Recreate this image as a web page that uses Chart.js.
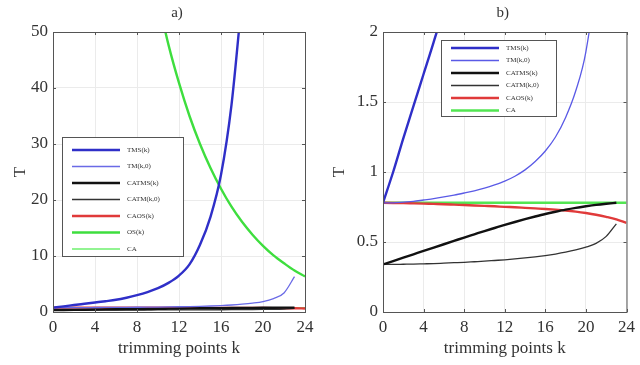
<!DOCTYPE html>
<html>
<head>
<meta charset="utf-8">
<script src="https://cdn.jsdelivr.net/npm/chart.js@4"></script>
<style>
    body { margin: 0; background: #fff; }
    .panel { position: absolute; top: 0; width: 320px; height: 365px; }
    #panelA { left: 0; }
    #panelB { left: 320px; }
</style>
</head>
<body>
<div class="panel" id="panelA"><canvas id="chartA"></canvas></div>
<div class="panel" id="panelB"><canvas id="chartB"></canvas></div>
<script>
// trimming points k = 0..24
const kValues = [0, 1, 2, 3, 4, 5, 6, 7, 8, 9, 10, 11, 12, 13, 14, 15, 16, 17, 18, 19, 20, 21, 22, 23, 24];

const tmsK    = [0.78, 1.0, 1.24, 1.47, 1.7, 1.93, 2.18, 2.55, 3.0, 3.55, 4.25, 5.2, 6.5, 8.5, 12, 17, 24.5, 37, 56, null, null, null, null, null, null];
const tmK0    = [0.78, 0.78, 0.785, 0.79, 0.8, 0.81, 0.822, 0.835, 0.85, 0.866, 0.885, 0.908, 0.935, 0.97, 1.015, 1.075, 1.15, 1.25, 1.39, 1.58, 1.86, 2.4, 3.4, 6.3, null];
const catmsK  = [0.34, 0.364, 0.388, 0.412, 0.436, 0.46, 0.484, 0.508, 0.532, 0.555, 0.578, 0.6, 0.622, 0.643, 0.663, 0.682, 0.7, 0.716, 0.731, 0.744, 0.755, 0.765, 0.773, 0.78, null];
const catmK0  = [0.34, 0.34, 0.341, 0.342, 0.344, 0.346, 0.349, 0.352, 0.355, 0.359, 0.363, 0.368, 0.373, 0.379, 0.386, 0.394, 0.403, 0.414, 0.427, 0.443, 0.463, 0.49, 0.54, 0.63, null];
const caosK   = [0.78, 0.779, 0.778, 0.776, 0.774, 0.772, 0.77, 0.767, 0.764, 0.761, 0.758, 0.755, 0.751, 0.748, 0.744, 0.74, 0.736, 0.731, 0.725, 0.717, 0.707, 0.695, 0.68, 0.662, 0.636];
const osK     = [null, null, null, null, null, null, null, null, null, null, 55.8, 47.7, 40.9, 35, 30, 25.7, 22, 18.8, 16.1, 13.8, 11.8, 10.1, 8.7, 7.4, 6.35];
const caConst = [0.78, 0.78, 0.78, 0.78, 0.78, 0.78, 0.78, 0.78, 0.78, 0.78, 0.78, 0.78, 0.78, 0.78, 0.78, 0.78, 0.78, 0.78, 0.78, 0.78, 0.78, 0.78, 0.78, 0.78, 0.78];

const xTicks = [0, 4, 8, 12, 16, 20, 24];
const yTicksA = [0, 10, 20, 30, 40, 50];
const yTicksB = [0, 0.5, 1, 1.5, 2];

const SERIF = '"Liberation Serif", "DejaVu Serif", serif';
const TEXT = '#333';

function pts(values) {
    return kValues.map((k, i) => ({ x: k, y: values[i] }));
}

function makeSet(label, values, color, width) {
    return {
        label: label,
        data: pts(values),
        borderColor: color,
        borderWidth: width,
        pointRadius: 0,
        cubicInterpolationMode: 'monotone',
        fill: false
    };
}

// draws the box, small inward ticks, title and an in-plot legend like the matlab figure
function framePlugin(title, legendBox, rowGap) {
    return {
        id: 'frame',
        afterDatasetsDraw(chart) {
            const ctx = chart.ctx;
            const a = chart.chartArea;
            const xs = chart.scales.x;
            const ys = chart.scales.y;
            ctx.save();
            ctx.strokeStyle = '#555';
            ctx.lineWidth = 1;
            ctx.strokeRect(a.left + 0.5, a.top + 0.5, a.right - a.left, a.bottom - a.top);
            ctx.beginPath();
            xs.ticks.forEach(t => {
                const px = Math.round(xs.getPixelForValue(t.value)) + 0.5;
                ctx.moveTo(px, a.bottom); ctx.lineTo(px, a.bottom - 3);
                ctx.moveTo(px, a.top); ctx.lineTo(px, a.top + 3);
            });
            ys.ticks.forEach(t => {
                const py = Math.round(ys.getPixelForValue(t.value)) + 0.5;
                ctx.moveTo(a.left, py); ctx.lineTo(a.left + 3, py);
                ctx.moveTo(a.right, py); ctx.lineTo(a.right - 3, py);
            });
            ctx.stroke();

            ctx.fillStyle = TEXT;
            ctx.font = '15px ' + SERIF;
            ctx.textAlign = 'center';
            ctx.textBaseline = 'middle';
            ctx.fillText(title, (a.left + a.right) / 2 - 2, 13);

            // legend
            const b = legendBox;
            ctx.fillStyle = '#fff';
            ctx.fillRect(b.x, b.y, b.w, b.h);
            ctx.strokeStyle = '#555';
            ctx.lineWidth = 1;
            ctx.strokeRect(b.x + 0.5, b.y + 0.5, b.w, b.h);
            ctx.font = '7px ' + SERIF;
            ctx.textAlign = 'left';
            chart.data.datasets.forEach((ds, i) => {
                const y = b.y + b.first + i * rowGap;
                ctx.strokeStyle = ds.borderColor;
                ctx.lineWidth = ds.borderWidth;
                ctx.beginPath();
                ctx.moveTo(b.x + 10, y);
                ctx.lineTo(b.x + b.lineLen + 10, y);
                ctx.stroke();
                ctx.fillStyle = TEXT;
                ctx.fillText(ds.label, b.x + b.lineLen + 17, y);
            });
            ctx.restore();
        }
    };
}

function makeOptions(yMax, yTicks, leftPad, yWidth, rightPad) {
    return {
        responsive: true,
        maintainAspectRatio: false,
        animation: false,
        layout: { padding: { top: 32, right: rightPad, left: leftPad, bottom: 6 } },
        plugins: { legend: { display: false }, tooltip: { enabled: false } },
        scales: {
            x: {
                type: 'linear',
                min: 0,
                max: 24,
                afterBuildTicks: (scale) => { scale.ticks = xTicks.map(v => ({ value: v })); },
                afterFit: (scale) => { scale.height = 47; },
                ticks: { color: TEXT, font: { family: SERIF, size: 17 }, padding: 5 },
                grid: { color: '#ebebeb', drawTicks: false },
                border: { display: false },
                title: { display: true, text: 'trimming points k', color: TEXT, font: { family: SERIF, size: 17 }, padding: 0 }
            },
            y: {
                min: 0,
                max: yMax,
                afterBuildTicks: (scale) => { scale.ticks = yTicks.map(v => ({ value: v })); },
                afterFit: (scale) => { scale.width = yWidth; },
                ticks: { color: TEXT, font: { family: SERIF, size: 17 }, padding: 5, callback: (v) => String(v) },
                grid: { color: '#ebebeb', drawTicks: false },
                border: { display: false },
                title: { display: true, text: 'T', color: TEXT, font: { family: SERIF, size: 17 }, padding: 0 }
            }
        }
    };
}

const thick = 2.4;
const thin = 1.3;

new Chart(document.getElementById('chartA').getContext('2d'), {
    type: 'line',
    data: {
        datasets: [
            makeSet('TMS(k)', tmsK, '#2f2fc8', thick),
            makeSet('TM(k,0)', tmK0, '#6a6ae6', thin),
            makeSet('CATMS(k)', catmsK, '#111111', thick),
            makeSet('CATM(k,0)', catmK0, '#333333', thin),
            makeSet('CAOS(k)', caosK, '#e03a3a', thick),
            makeSet('OS(k)', osK, '#3ede3e', thick),
            makeSet('CA', caConst, '#6ef06e', thin)
        ]
    },
    options: makeOptions(50, yTicksA, 10, 43, 15),
    plugins: [framePlugin('a)', { x: 62, y: 137, w: 121, h: 119, first: 13, lineLen: 48 }, 16.5)]
});

new Chart(document.getElementById('chartB').getContext('2d'), {
    type: 'line',
    data: {
        datasets: [
            makeSet('TMS(k)', tmsK, '#2f2fc8', thick),
            makeSet('TM(k,0)', tmK0, '#5a5ae6', thin),
            makeSet('CATMS(k)', catmsK, '#111111', thick),
            makeSet('CATM(k,0)', catmK0, '#333333', thin),
            makeSet('CAOS(k)', caosK, '#e03a3a', thick),
            makeSet('CA', caConst, '#52e652', thick)
        ]
    },
    options: makeOptions(2, yTicksB, 9, 54, 8),
    plugins: [framePlugin('b)', { x: 121, y: 40, w: 115, h: 76, first: 8, lineLen: 48 }, 12.5)]
});
</script>
</body>
</html>
